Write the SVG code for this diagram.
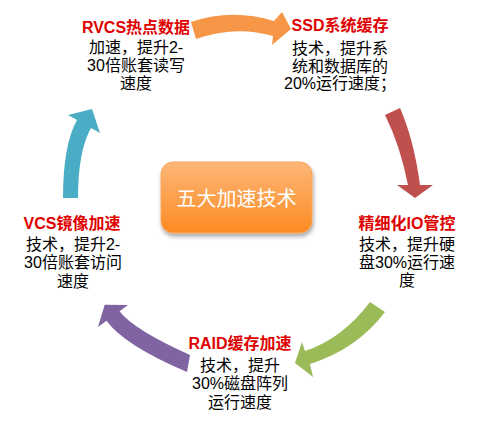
<svg xmlns="http://www.w3.org/2000/svg" width="482" height="424" viewBox="0 0 482 424">
<defs>
<linearGradient id="boxGrad" x1="0" y1="0" x2="0" y2="1">
<stop offset="0" stop-color="#fcb678"/>
<stop offset="1" stop-color="#fd8b22"/>
</linearGradient>
<filter id="shadow" x="-10%" y="-10%" width="130%" height="140%">
<feGaussianBlur in="SourceAlpha" stdDeviation="2"/>
<feOffset dx="1" dy="3" result="b"/>
<feComponentTransfer><feFuncA type="linear" slope="0.35"/></feComponentTransfer>
<feMerge><feMergeNode/><feMergeNode in="SourceGraphic"/></feMerge>
</filter>
</defs>
<style>
text{font-family:"Liberation Sans","Noto Sans CJK SC",sans-serif;font-size:16px;text-anchor:middle;fill:#000}
.t{font-weight:bold;fill:#e00000}
.c{font-size:20px;fill:#fff}
</style>
<rect width="482" height="424" fill="#fff"/>
<g id="connectors">
<path id="arrow-orange" fill="#f79646" d="M191,22 Q232,8 274,21 L282,12 L291,29 L272,45 L273,36 Q236,25 196,39 Z"/>
<path id="arrow-red" fill="#c0504d" d="M385,115 L400,108 Q414,140 420,185 L433,185 L415,198 L397,185 L408,185 Q400,145 385,115 Z"/>
<path id="arrow-green" fill="#9bbb59" d="M370,302 L385,312 Q357,349 310,364 L313,377 L295,363 L302,342 L305,351 Q342,339 370,302 Z"/>
<path id="arrow-purple" fill="#8064a2" d="M190,355 Q134,330 119.5,311.3 L128,305 L104.7,304.7 L98,327 L106.5,320.7 Q124,345 187,372 Z"/>
<path id="arrow-blue" fill="#4bacc6" d="M63,198 Q63,145 77,120 L68,115 L92,109 L100,133 L91,128 Q78,151 78,198 Z"/>
</g>
<g id="center">
<rect x="161" y="162" width="151" height="71" rx="12" fill="url(#boxGrad)" stroke="#f9a860" stroke-width="1" filter="url(#shadow)"/>
<text class="c" x="236.5" y="206">五大加速技术</text>
</g>
<g id="rvcs">
<text x="136" y="33"><tspan class="t" x="136" y="33">RVCS热点数据</tspan><tspan x="136" y="53">加速，提升2-</tspan><tspan x="136" y="71">30倍账套读写</tspan><tspan x="136" y="89">速度</tspan></text>
</g>
<g id="ssd">
<text x="340" y="31"><tspan class="t" x="340" y="31">SSD系统缓存</tspan><tspan x="340" y="54">技术，提升系</tspan><tspan x="340" y="72">统和数据库的</tspan><tspan x="340" y="89">20%运行速度；</tspan></text>
</g>
<g id="io">
<text x="407" y="229"><tspan class="t" x="407" y="229">精细化IO管控</tspan><tspan x="407" y="250">技术，提升硬</tspan><tspan x="407" y="268">盘30%运行速</tspan><tspan x="407" y="286">度</tspan></text>
</g>
<g id="raid">
<text x="240" y="349"><tspan class="t" x="240" y="349">RAID缓存加速</tspan><tspan x="240" y="371">技术，提升</tspan><tspan x="240" y="389">30%磁盘阵列</tspan><tspan x="240" y="408">运行速度</tspan></text>
</g>
<g id="vcs">
<text x="72" y="229"><tspan class="t" x="72" y="229">VCS镜像加速</tspan><tspan x="73" y="250">技术，提升2-</tspan><tspan x="73" y="268">30倍账套访问</tspan><tspan x="73" y="287">速度</tspan></text>
</g>
</svg>
